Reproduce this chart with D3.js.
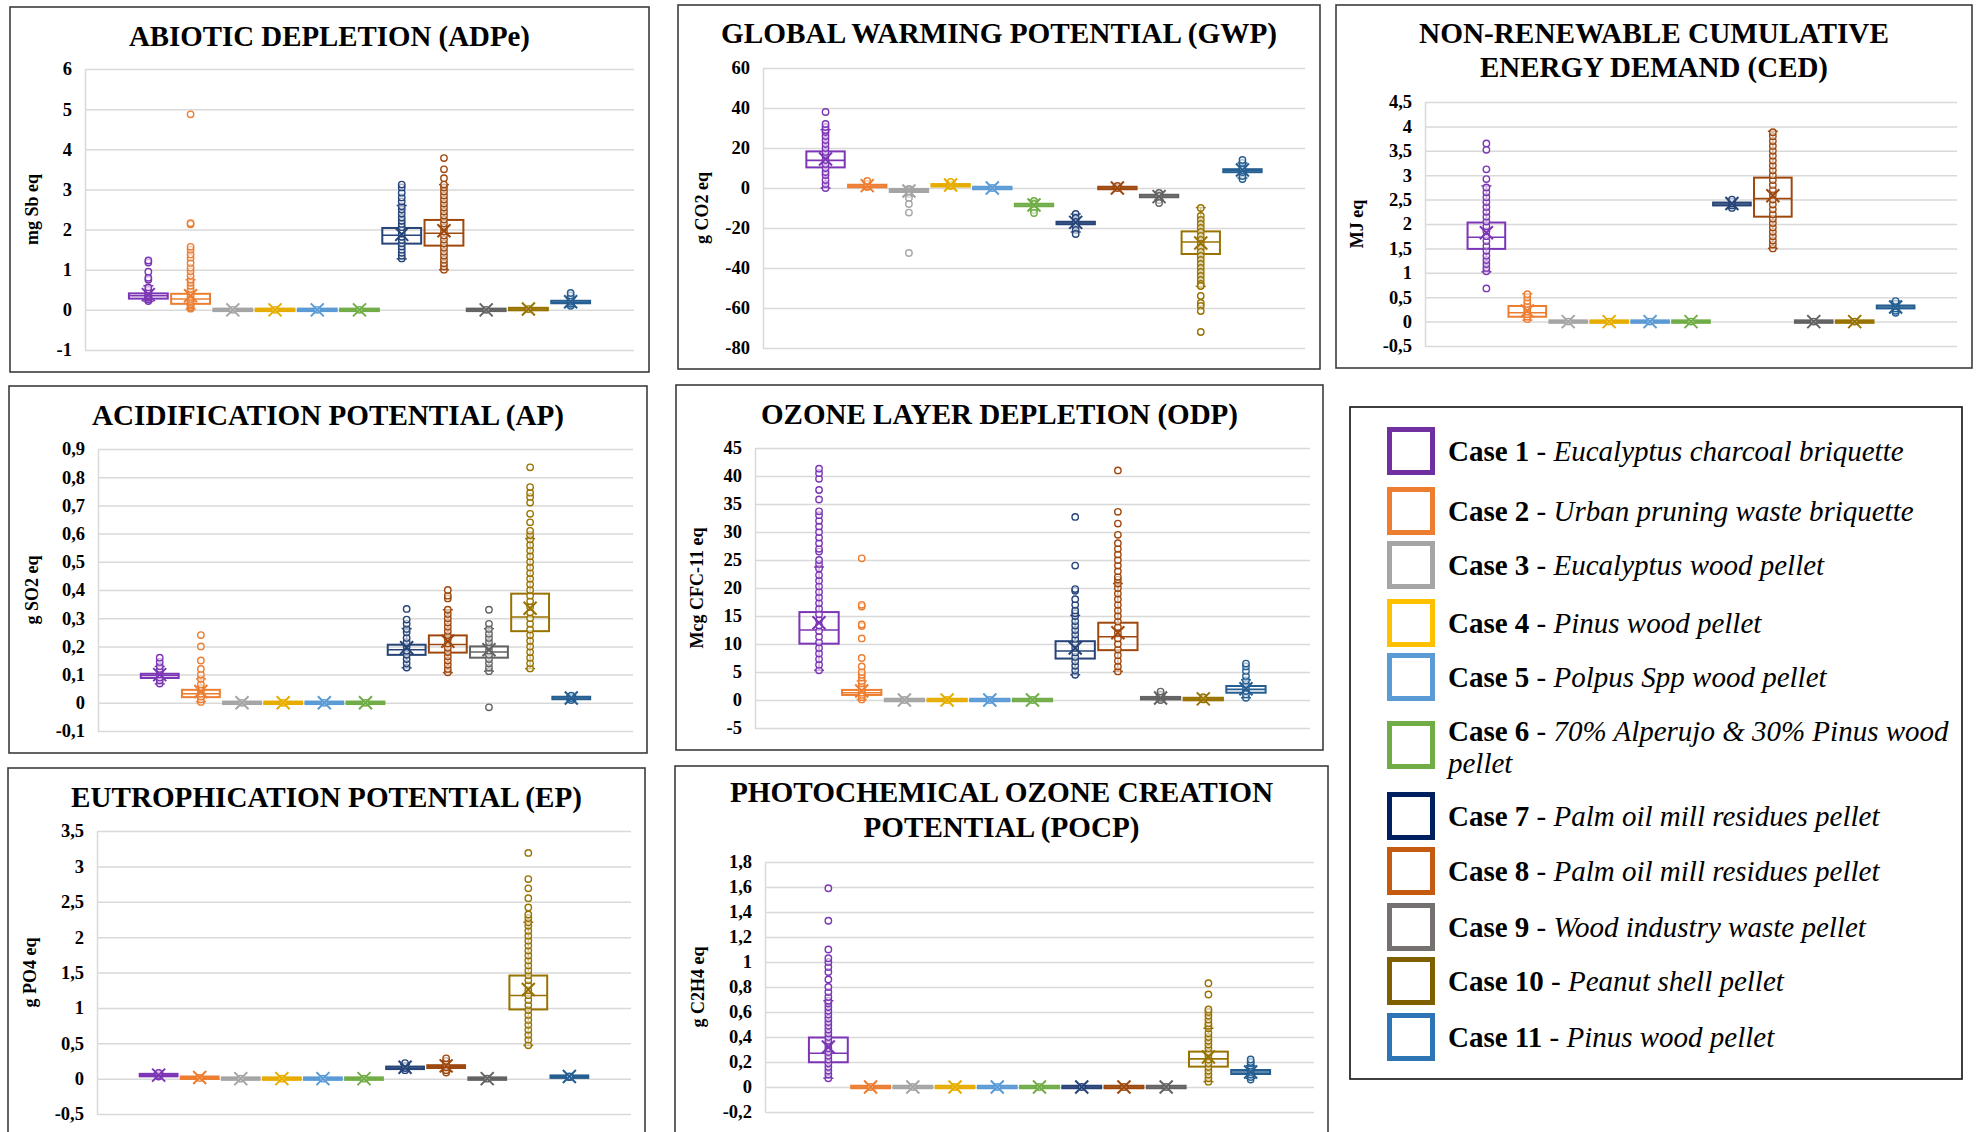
<!DOCTYPE html>
<html>
<head>
<meta charset="UTF-8">
<title>LCA impact categories - box plots</title>
<script src="https://cdn.jsdelivr.net/npm/d3@7"></script>
<style>
  body { margin: 0; background: #fff; }
  text { font-family: "Liberation Serif", "Times New Roman", serif; }
</style>
</head>
<body>
<script>
// ---- data ----
const cases = ["Case 1","Case 2","Case 3","Case 4","Case 5","Case 6","Case 7","Case 8","Case 9","Case 10","Case 11"];
const caseNames = [
  "Eucalyptus charcoal briquette",
  "Urban pruning waste briquette",
  "Eucalyptus wood pellet",
  "Pinus wood pellet",
  "Polpus Spp wood pellet",
  "70% Alperujo & 30% Pinus wood|pellet",
  "Palm oil mill residues pellet",
  "Palm oil mill residues pellet",
  "Wood industry waste pellet",
  "Peanut shell pellet",
  "Pinus wood pellet"
];

// stats rows: [whisker min, q1, median, q3, whisker max, mean]
const adpTicks = [-1, 0, 1, 2, 3, 4, 5, 6];
const adpStats = [
  [0.21, 0.28, 0.35, 0.41, 0.6, 0.38], [0.02, 0.15, 0.27, 0.4, 0.75, 0.35],
  [0, 0, 0, 0, 0, 0], [0, 0, 0, 0, 0, 0], [0, 0, 0, 0, 0, 0], [0, 0, 0, 0, 0, 0],
  [1.27, 1.65, 1.86, 2.04, 2.6, 1.88], [1.0, 1.6, 1.91, 2.24, 3.12, 1.97],
  [0, 0, 0, 0, 0, 0], [0, 0.01, 0.02, 0.03, 0.05, 0.02], [0.08, 0.17, 0.19, 0.22, 0.3, 0.2]
];
const adpPoints = [
  [0.22, 0.26, 0.3, 0.33, 0.36, 0.4, 0.44, 0.5, 0.56, 0.75, 0.8, 0.95, 1.18, 1.23],
  [0.03, 0.06, 0.1, 0.14, 0.18, 0.22, 0.27, 0.32, 0.38, 0.45, 0.52, 0.6, 0.68, 0.75, 0.85, 0.96, 1.05, 1.17, 1.3, 1.38, 1.5, 1.57, 2.13, 2.16, 4.87],
  [0], [0], [0], [0],
  [1.28, 1.35, 1.42, 1.5, 1.58, 1.66, 1.74, 1.82, 1.9, 1.98, 2.06, 2.14, 2.22, 2.3, 2.4, 2.5, 2.58, 2.7, 2.8, 2.92, 3.05, 3.12],
  [1.0, 1.08, 1.16, 1.25, 1.35, 1.45, 1.55, 1.65, 1.75, 1.85, 1.95, 2.05, 2.15, 2.25, 2.35, 2.45, 2.55, 2.65, 2.75, 2.85, 2.95, 3.05, 3.12, 3.28, 3.5, 3.78],
  [0], [0.02], [0.1, 0.15, 0.2, 0.25, 0.3, 0.36, 0.42]
];

const gwpTicks = [-80, -60, -40, -20, 0, 20, 40, 60];
const gwpStats = [
  [0, 10.3, 13.8, 18.3, 29.2, 14.5], [0, 0.6, 1, 1.4, 3, 1.2], [-4, -2, -1.2, -0.5, 0, -1.5],
  [0, 1, 1.3, 1.7, 3, 1.5], [-0.5, -0.2, 0, 0.2, 0.5, 0], [-11, -9, -8.5, -8, -6, -8.5],
  [-22, -18, -17.5, -17, -13, -17.2], [-0.5, -0.2, 0, 0.2, 1, 0], [-6, -4.5, -4, -3.5, -2, -4.3],
  [-49.2, -33, -27, -21.7, -9.8, -27.5], [5, 7.9, 8.6, 9.4, 12.5, 9]
];
const gwpPoints = [
  [0, 2, 4, 6.5, 8, 10, 12, 14, 16, 18, 20, 22, 24, 26, 28, 29, 30.5, 32, 38],
  [0.5, 1, 2, 3.5], [-0.5, -1, -2, -3, -5, -8, -12.3, -32.5], [1, 1.5, 3], [0],
  [-6.5, -8, -9.5, -11, -12.5], [-13, -15, -17, -19, -21, -23], [0, 1], [-2.5, -4, -6, -7.5],
  [-10, -14, -16, -18, -20, -22, -24, -26, -28, -30, -32, -34, -36, -38, -40, -42, -44, -46, -48, -49, -54, -57.5, -59, -61.5, -72],
  [4.5, 6, 8, 9, 10, 12.5, 14]
];

const cedTicks = [-0.5, 0, 0.5, 1, 1.5, 2, 2.5, 3, 3.5, 4, 4.5];
const cedStats = [
  [1.02, 1.49, 1.73, 2.03, 2.78, 1.82], [0.03, 0.1, 0.18, 0.32, 0.57, 0.22],
  [0, 0, 0, 0, 0, 0], [0, 0, 0, 0, 0, 0], [0, 0, 0, 0, 0, 0], [0, 0, 0, 0, 0, 0],
  [2.32, 2.38, 2.41, 2.44, 2.5, 2.42], [1.5, 2.15, 2.52, 2.95, 3.9, 2.58],
  [0, 0, 0, 0, 0, 0], [0, 0, 0, 0, 0, 0], [0.2, 0.27, 0.3, 0.33, 0.42, 0.3]
];
const cedPoints = [
  [0.68, 1.03, 1.1, 1.18, 1.26, 1.35, 1.45, 1.55, 1.65, 1.75, 1.85, 1.95, 2.05, 2.15, 2.25, 2.35, 2.45, 2.55, 2.65, 2.75, 2.92, 3.12, 3.52, 3.65],
  [0.05, 0.1, 0.15, 0.2, 0.25, 0.3, 0.36, 0.42, 0.5, 0.56],
  [0], [0], [0], [0],
  [2.33, 2.38, 2.42, 2.46, 2.5],
  [1.5, 1.58, 1.66, 1.75, 1.84, 1.93, 2.02, 2.11, 2.2, 2.3, 2.4, 2.5, 2.6, 2.7, 2.8, 2.9, 3.0, 3.1, 3.2, 3.3, 3.4, 3.5, 3.6, 3.7, 3.8, 3.88],
  [0], [0], [0.18, 0.22, 0.27, 0.32, 0.37, 0.42]
];

const apTicks = [-0.1, 0, 0.1, 0.2, 0.3, 0.4, 0.5, 0.6, 0.7, 0.8, 0.9];
const apStats = [
  [0.067, 0.088, 0.097, 0.103, 0.129, 0.1], [0.004, 0.02, 0.032, 0.046, 0.085, 0.04],
  [0, 0, 0, 0, 0, 0], [0, 0, 0, 0, 0, 0], [0, 0, 0, 0, 0, 0], [0, 0, 0, 0, 0, 0],
  [0.124, 0.17, 0.188, 0.206, 0.263, 0.195], [0.107, 0.178, 0.207, 0.239, 0.33, 0.218],
  [0.112, 0.16, 0.18, 0.2, 0.263, 0.188], [0.121, 0.254, 0.304, 0.387, 0.582, 0.335],
  [0.008, 0.014, 0.017, 0.02, 0.026, 0.017]
];
const apPoints = [
  [0.068, 0.08, 0.09, 0.1, 0.11, 0.12, 0.13, 0.145, 0.16],
  [0.003, 0.012, 0.022, 0.032, 0.042, 0.052, 0.065, 0.085, 0.1, 0.12, 0.15, 0.2, 0.24],
  [0], [0], [0], [0],
  [0.125, 0.14, 0.155, 0.17, 0.185, 0.2, 0.215, 0.23, 0.25, 0.262, 0.28, 0.295, 0.333],
  [0.108, 0.12, 0.135, 0.15, 0.165, 0.18, 0.195, 0.21, 0.225, 0.24, 0.255, 0.27, 0.285, 0.3, 0.315, 0.33, 0.37, 0.38, 0.4],
  [-0.016, 0.112, 0.125, 0.14, 0.155, 0.17, 0.185, 0.2, 0.215, 0.23, 0.245, 0.262, 0.28, 0.33],
  [0.122, 0.14, 0.16, 0.18, 0.2, 0.22, 0.24, 0.26, 0.28, 0.3, 0.32, 0.34, 0.36, 0.38, 0.4, 0.42, 0.44, 0.46, 0.48, 0.5, 0.52, 0.54, 0.56, 0.58, 0.595, 0.61, 0.64, 0.67, 0.71, 0.73, 0.745, 0.765, 0.835],
  [0.01, 0.017, 0.025]
];

const odpTicks = [-5, 0, 5, 10, 15, 20, 25, 30, 35, 40, 45];
const odpStats = [
  [5.3, 10.06, 12.5, 15.7, 23.75, 13.8], [0.1, 0.9, 1.3, 1.8, 3.4, 1.6],
  [0, 0, 0, 0, 0, 0], [0, 0, 0, 0, 0, 0], [0, 0, 0, 0, 0, 0], [0, 0, 0, 0, 0, 0],
  [4.5, 7.4, 8.75, 10.5, 15.1, 9.3], [5.1, 8.9, 11.3, 13.8, 20.8, 12],
  [0, 0.2, 0.3, 0.45, 0.9, 0.35], [0, 0.1, 0.15, 0.25, 0.4, 0.2], [0.4, 1.3, 1.9, 2.5, 3.6, 2.0]
];
const odpPoints = [
  [5.3, 6.3, 7.3, 8.3, 9.3, 10.3, 11.3, 12.3, 13.3, 14.3, 15.3, 16.3, 17.3, 18.3, 19.3, 20.3, 21.3, 22.3, 23.5, 24.3, 25, 26.5, 27, 28, 29, 30, 31, 32, 33, 33.7, 35.8, 37.5, 39.5, 40.5, 41.3],
  [0.1, 0.5, 0.9, 1.3, 1.8, 2.4, 3, 3.4, 4, 4.5, 5, 6, 7.5, 11, 13.2, 13.5, 16.7, 17, 25.3],
  [0], [0], [0], [0],
  [4.5, 5.3, 6.1, 6.9, 7.7, 8.5, 9.3, 10.1, 10.9, 11.7, 12.5, 13.3, 14.1, 15, 15.5, 16, 17, 18, 19.5, 19.8, 24, 32.7],
  [5.1, 6, 7, 8, 9, 10, 11, 12, 13, 14, 15, 16, 17, 18, 19, 20, 20.8, 21.5, 22, 23, 24, 25, 26, 27, 28, 29.5, 31.5, 33.6, 41],
  [0, 0.4, 0.8, 1, 1.5], [0.1, 0.2, 0.5],
  [0.4, 1, 1.6, 2.2, 2.8, 3.5, 4.3, 5.2, 6, 6.5]
];

const epTicks = [-0.5, 0, 0.5, 1, 1.5, 2, 2.5, 3, 3.5];
const epStats = [
  [0.03, 0.04, 0.05, 0.06, 0.08, 0.05], [0, 0.005, 0.01, 0.02, 0.03, 0.015],
  [0, 0, 0, 0, 0, 0], [0, 0, 0, 0, 0, 0], [0, 0, 0, 0, 0, 0], [0, 0, 0, 0, 0, 0],
  [0.11, 0.14, 0.15, 0.165, 0.2, 0.16], [0.1, 0.15, 0.17, 0.19, 0.25, 0.18],
  [0, 0, 0, 0, 0, 0], [0.47, 0.978, 1.175, 1.457, 2.21, 1.26], [0.01, 0.02, 0.025, 0.035, 0.045, 0.03]
];
const epPoints = [
  [0.03, 0.05, 0.08], [0.01], [0], [0], [0], [0],
  [0.12, 0.15, 0.18, 0.22], [0.085, 0.12, 0.16, 0.2, 0.25, 0.287], [0],
  [0.47, 0.55, 0.62, 0.69, 0.76, 0.83, 0.9, 0.97, 1.04, 1.11, 1.18, 1.25, 1.32, 1.39, 1.46, 1.53, 1.6, 1.67, 1.74, 1.81, 1.88, 1.95, 2.02, 2.09, 2.16, 2.21, 2.27, 2.32, 2.42, 2.55, 2.69, 2.82, 3.19],
  [0.02, 0.03]
];

const pocpTicks = [-0.2, 0, 0.2, 0.4, 0.6, 0.8, 1, 1.2, 1.4, 1.6, 1.8];
const pocpStats = [
  [0.07, 0.198, 0.27, 0.396, 0.69, 0.32],
  [0, 0, 0, 0, 0, 0], [0, 0, 0, 0, 0, 0], [0, 0, 0, 0, 0, 0], [0, 0, 0, 0, 0, 0],
  [0, 0, 0, 0, 0, 0], [0, 0, 0, 0, 0, 0], [0, 0, 0, 0, 0, 0], [0, 0, 0, 0, 0, 0],
  [0.043, 0.163, 0.225, 0.283, 0.47, 0.24], [0.07, 0.104, 0.12, 0.136, 0.17, 0.12]
];
const pocpPoints = [
  [0.07, 0.1, 0.13, 0.16, 0.19, 0.22, 0.25, 0.28, 0.31, 0.34, 0.37, 0.4, 0.43, 0.46, 0.49, 0.52, 0.55, 0.58, 0.61, 0.64, 0.67, 0.69, 0.72, 0.76, 0.8, 0.86, 0.92, 0.96, 1.0, 1.03, 1.1, 1.33, 1.59],
  [0], [0], [0], [0], [0], [0], [0], [0],
  [0.043, 0.07, 0.1, 0.13, 0.16, 0.19, 0.22, 0.25, 0.28, 0.31, 0.34, 0.37, 0.4, 0.43, 0.47, 0.49, 0.51, 0.54, 0.57, 0.6, 0.62, 0.74, 0.83],
  [0.06, 0.08, 0.1, 0.12, 0.14, 0.17, 0.19, 0.2, 0.22]
];

// ---- styles ----
const plotColors = ["#7b35b5", "#ed7d31", "#a5a5a5", "#e6ad00", "#5b9bd5", "#70ad47",
                    "#264478", "#9e480e", "#636363", "#997300", "#255e91"];
const legendColors = ["#7030a0", "#ed7d31", "#a5a5a5", "#ffc000", "#5b9bd5", "#70ad47",
                      "#002060", "#c55a11", "#767171", "#7f6000", "#2e75b6"];

// title lines: [text, width in px]
const panels = [
  {title: [["ABIOTIC DEPLETION (ADPe)", 401]], unit: "mg Sb eq", stats: adpStats, pts: adpPoints, ticks: adpTicks,
   frame: [10, 7, 649, 372], plot: [85, 69, 634, 350], titleY: [46], unitX: 34},
  {title: [["GLOBAL WARMING POTENTIAL (GWP)", 556]], unit: "g CO2 eq", stats: gwpStats, pts: gwpPoints, ticks: gwpTicks,
   frame: [678, 5, 1320, 369], plot: [763, 68, 1305, 348], titleY: [43], unitX: 704},
  {title: [["NON-RENEWABLE CUMULATIVE", 470], ["ENERGY DEMAND (CED)", 348]], unit: "MJ eq", stats: cedStats, pts: cedPoints, ticks: cedTicks,
   frame: [1336, 5, 1972, 368], plot: [1425, 102, 1957, 346], titleY: [43, 77], unitX: 1359},
  {title: [["ACIDIFICATION POTENTIAL (AP)", 472]], unit: "g SO2 eq", stats: apStats, pts: apPoints, ticks: apTicks,
   frame: [9, 386, 647, 753], plot: [98, 449, 633, 731], titleY: [425], unitX: 34},
  {title: [["OZONE LAYER DEPLETION (ODP)", 477]], unit: "Mcg CFC-11 eq", stats: odpStats, pts: odpPoints, ticks: odpTicks,
   frame: [676, 385, 1323, 750], plot: [755, 448, 1310, 728], titleY: [424], unitX: 699},
  {title: [["EUTROPHICATION POTENTIAL (EP)", 511]], unit: "g PO4 eq", stats: epStats, pts: epPoints, ticks: epTicks,
   frame: [8, 768, 645, 1150], plot: [97, 831, 631, 1114], titleY: [807], unitX: 32},
  {title: [["PHOTOCHEMICAL OZONE CREATION", 543], ["POTENTIAL (POCP)", 276]], unit: "g C2H4 eq", stats: pocpStats, pts: pocpPoints, ticks: pocpTicks,
   frame: [675, 766, 1328, 1150], plot: [765, 862, 1314, 1112], titleY: [802, 837], unitX: 700}
];

const fmt = v => String(+v.toFixed(3)).replace(".", ",");

const svg = d3.select("body").append("svg")
  .attr("width", 1977).attr("height", 1132);

panels.forEach(p => {
  const [fx0, fy0, fx1, fy1] = p.frame;
  const [px0, py0, px1, py1] = p.plot;
  const g = svg.append("g");

  g.append("rect")
    .attr("x", fx0).attr("y", fy0)
    .attr("width", fx1 - fx0).attr("height", fy1 - fy0)
    .attr("fill", "#fff").attr("stroke", "#3c3c3c").attr("stroke-width", 1.6);

  p.title.forEach(([t, w], i) => {
    g.append("text")
      .attr("x", (fx0 + fx1) / 2).attr("y", p.titleY[i])
      .attr("text-anchor", "middle")
      .attr("font-size", 30).attr("font-weight", "bold")
      .attr("textLength", w).attr("lengthAdjust", "spacingAndGlyphs")
      .text(t);
  });

  const y = d3.scaleLinear()
    .domain([p.ticks[0], p.ticks[p.ticks.length - 1]])
    .range([py1, py0]);
  const x = d3.scaleBand()
    .domain(cases)
    .range([px0, px1])
    .paddingInner(0)
    .paddingOuter(1);

  const axis = g.append("g")
    .attr("transform", `translate(${px0},0)`)
    .call(d3.axisLeft(y)
      .tickValues(p.ticks)
      .tickFormat(fmt)
      .tickSize(-(px1 - px0))
      .tickSizeOuter(0)
      .tickPadding(13));
  axis.select(".domain").attr("stroke", "#d9d9d9").attr("stroke-width", 1.5);
  axis.selectAll(".tick line").attr("stroke", "#d9d9d9").attr("stroke-width", 1.5);
  axis.selectAll(".tick text")
    .attr("font-family", "Liberation Serif")
    .attr("font-size", 18.5).attr("font-weight", "bold")
    .attr("fill", "#000");

  g.append("text")
    .attr("transform", `translate(${p.unitX},${(py0 + py1) / 2}) rotate(-90)`)
    .attr("text-anchor", "middle")
    .attr("dominant-baseline", "middle")
    .attr("font-size", 18).attr("font-weight", "bold")
    .text(p.unit);

  const bw = x.bandwidth() * 0.92;

  cases.forEach((c, i) => {
    const [mn, q1, md, q3, mx, mean] = p.stats[i];
    const col = plotColors[i];
    const cx = x(c) + x.bandwidth() / 2;
    const b = g.append("g");

    // whiskers
    [[q3, mx], [q1, mn]].forEach(([a, e]) => {
      b.append("line")
        .attr("x1", cx).attr("x2", cx)
        .attr("y1", y(a)).attr("y2", y(e))
        .attr("stroke", col).attr("stroke-width", 1.5);
      b.append("line")
        .attr("x1", cx - 5).attr("x2", cx + 5)
        .attr("y1", y(e)).attr("y2", y(e))
        .attr("stroke", col).attr("stroke-width", 1.5);
    });

    // box
    const top = y(q3), bot = y(q1);
    const h = Math.max(bot - top, 2.5);
    b.append("rect")
      .attr("x", cx - bw / 2).attr("y", (top + bot) / 2 - h / 2)
      .attr("width", bw).attr("height", h)
      .attr("fill", "none").attr("stroke", col).attr("stroke-width", 2);
    b.append("line")
      .attr("x1", cx - bw / 2).attr("x2", cx + bw / 2)
      .attr("y1", y(md)).attr("y2", y(md))
      .attr("stroke", col).attr("stroke-width", 1.6);

    // points
    b.selectAll("circle")
      .data(p.pts[i])
      .enter().append("circle")
      .attr("cx", cx).attr("cy", d => y(d))
      .attr("r", 3.2)
      .attr("fill", "#fff").attr("fill-opacity", 0.6)
      .attr("stroke", col).attr("stroke-width", 1.4);

    // mean marker
    const my = y(mean), s = 6.5;
    b.append("path")
      .attr("d", `M${cx - s},${my - s}L${cx + s},${my + s}M${cx - s},${my + s}L${cx + s},${my - s}`)
      .attr("stroke", col).attr("stroke-width", 2).attr("fill", "none");
  });
});

// ---- legend ----
const legend = svg.append("g");
legend.append("rect")
  .attr("x", 1350).attr("y", 407).attr("width", 612).attr("height", 672)
  .attr("fill", "#fff").attr("stroke", "#111").attr("stroke-width", 1.6);

const rowY = [451, 511, 565, 623, 677, 745, 816, 871, 927, 981, 1037];

cases.forEach((c, i) => {
  const cy = rowY[i];
  legend.append("rect")
    .attr("x", 1389.5).attr("y", cy - 21.5)
    .attr("width", 43).attr("height", 43)
    .attr("fill", "#fff").attr("stroke", legendColors[i]).attr("stroke-width", 5);

  const lines = caseNames[i].split("|");
  const base = lines.length > 1 ? cy - 4 : cy + 10;
  const t = legend.append("text")
    .attr("x", 1448).attr("y", base)
    .attr("font-size", 29);
  t.append("tspan").attr("font-weight", "bold").text(c);
  t.append("tspan").text(" - ");
  t.append("tspan").attr("font-style", "italic").text(lines[0]);
  if (lines.length > 1) {
    legend.append("text")
      .attr("x", 1448).attr("y", base + 32)
      .attr("font-size", 29).attr("font-style", "italic")
      .text(lines[1]);
  }
});
</script>
</body>
</html>
